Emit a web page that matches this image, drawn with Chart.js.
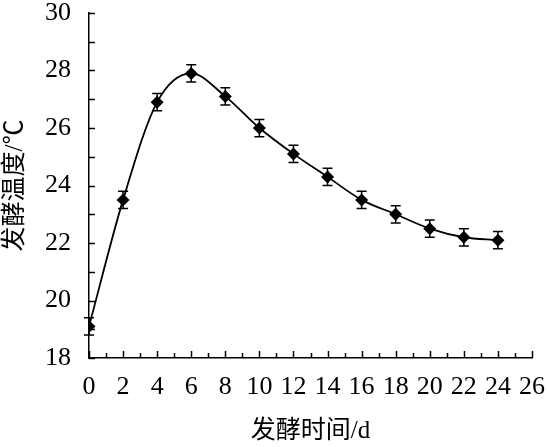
<!DOCTYPE html>
<html>
<head>
<meta charset="utf-8">
<script src="https://cdn.jsdelivr.net/npm/chart.js@4"></script>
<style>
  html, body { margin: 0; padding: 0; background: #fff; }
  #wrap { width: 547px; height: 447px; }
</style>
</head>
<body>
<div id="wrap"><canvas id="myChart" width="547" height="447"></canvas></div>
<script>
// fermentation time (d) and temperature (°C)
const days = [0, 2, 4, 6, 8, 10, 12, 14, 16, 18, 20, 22, 24];
const temps = [19.1, 23.5, 26.9, 27.9, 27.1, 26.0, 25.1, 24.3, 23.5, 23.0, 22.5, 22.2, 22.1];
const errors = [0.3, 0.3, 0.3, 0.3, 0.3, 0.3, 0.3, 0.3, 0.3, 0.3, 0.3, 0.3, 0.3];
const xTitle = '发酵时间/d';
const yTitle = '发酵温度/℃';

const serif = "'Liberation Serif', 'Times New Roman', 'Noto Sans CJK SC', serif";

// error bars with caps
const errorBars = {
    id: 'errorBars',
    beforeDatasetsDraw(chart) {
        const { ctx, scales: { x, y } } = chart;
        ctx.save();
        ctx.strokeStyle = '#000';
        ctx.lineWidth = 1.5;
        days.forEach((d, i) => {
            const px = x.getPixelForValue(d);
            const top = y.getPixelForValue(temps[i] + errors[i]);
            const bot = y.getPixelForValue(temps[i] - errors[i]);
            ctx.beginPath();
            ctx.moveTo(px, top); ctx.lineTo(px, bot);
            ctx.moveTo(px - 5, top); ctx.lineTo(px + 5, top);
            ctx.moveTo(px - 5, bot); ctx.lineTo(px + 5, bot);
            ctx.stroke();
        });
        ctx.restore();
    }
};

// inward tick marks, one per unit
const innerTicks = {
    id: 'innerTicks',
    afterDraw(chart) {
        const { ctx, scales: { x, y } } = chart;
        ctx.save();
        ctx.strokeStyle = '#000';
        ctx.lineWidth = 1.5;
        ctx.beginPath();
        for (let v = x.min; v <= x.max; v++) {
            const px = Math.round(x.getPixelForValue(v)) + 0.5;
            const len = v % 2 === 0 ? 7 : 5;
            ctx.moveTo(px, x.top); ctx.lineTo(px, x.top - len);
        }
        for (let v = y.min; v <= y.max; v++) {
            const py = Math.round(y.getPixelForValue(v)) + 0.5;
            ctx.moveTo(y.right, py); ctx.lineTo(y.right + 6, py);
        }
        ctx.stroke();
        ctx.restore();
    }
};

new Chart(document.getElementById('myChart'), {
    type: 'line',
    data: {
        datasets: [{
            data: days.map((d, i) => ({ x: d, y: temps[i] })),
            borderColor: '#000',
            borderWidth: 1.8,
            cubicInterpolationMode: 'monotone',
            pointStyle: 'rectRot',
            pointRadius: 6.5,
            pointBackgroundColor: '#000',
            pointBorderColor: '#000',
            pointBorderWidth: 0
        }]
    },
    options: {
        responsive: false,
        animation: false,
        layout: { padding: { top: 13, right: 15, left: 0, bottom: 0 } },
        plugins: { legend: { display: false }, tooltip: { enabled: false } },
        scales: {
            x: {
                type: 'linear',
                min: 0, max: 26,
                grid: { display: false },
                border: { color: '#000', width: 1.5 },
                ticks: { stepSize: 2, color: '#000', padding: 6, maxRotation: 0, font: { family: serif, size: 26 } },
                title: { display: true, text: xTitle, color: '#000', padding: { top: 4, bottom: 1 }, font: { family: serif, size: 25 } },
                afterFit(scale) { scale.height = 89; scale.paddingLeft = 0; scale.paddingRight = 0; }
            },
            y: {
                min: 18, max: 30,
                grid: { display: false },
                border: { color: '#000', width: 1.5 },
                ticks: { stepSize: 2, color: '#000', padding: 10, font: { family: serif, size: 26 } },
                title: { display: true, text: yTitle, color: '#000', padding: 0, font: { family: serif, size: 25 } },
                afterFit(scale) { scale.width = 89; scale.paddingTop = 0; scale.paddingBottom = 0; }
            }
        }
    },
    plugins: [errorBars, innerTicks]
});
</script>
</body>
</html>
